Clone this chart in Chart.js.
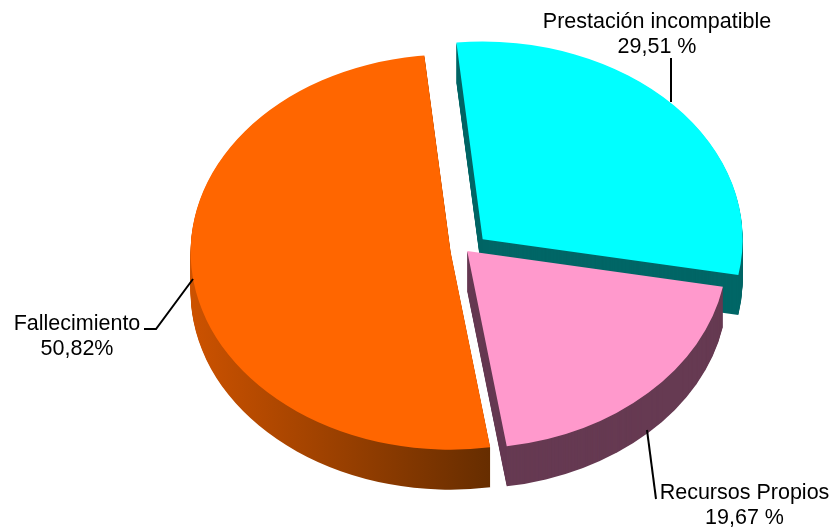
<!DOCTYPE html>
<html>
<head>
<meta charset="utf-8">
<title>Pie</title>
<script src="https://cdn.jsdelivr.net/npm/chart.js@4"></script>
<style>
html, body { margin: 0; padding: 0; background: #fff; }
canvas { display: block; }
</style>
</head>
<body>
<canvas id="pie" width="829" height="528"></canvas>
<script>
var categories = ["Prestación incompatible", "Recursos Propios", "Fallecimiento"];
var values = [29.51, 19.67, 50.82];
var suffixes = [" %", " %", "%"];

var topColors = ["#00FFFF", "#FF99CC", "#FF6600"];
var wallColors = ["#006666", "#663A52", null];
var explode = [22, 1, 16];   // px along the middle of each slice
var tilt = 0.76;             // y squash of the pie
var depth = 40;

// where the text and leader lines go, same order as categories
var labelPos = [[657, 28], [744.5, 499], [77, 330]];
var leaders = [
	[[671, 58], [671, 102]],
	[[647, 430], [656, 499]],
	[[144, 329], [156, 329], [193, 279]]
];

function sliceOffset(arc, i) {
	var mid = (arc.startAngle + arc.endAngle) / 2;
	return [Math.cos(mid) * explode[i], Math.sin(mid) * explode[i]];
}

// orange side goes dark to the right, x given in page pixels
function orangeWall(ctx, originX) {
	var g = ctx.createLinearGradient(191 - originX, 0, 492 - originX, 0);
	g.addColorStop(0, "#CC5200");
	g.addColorStop(1, "#662D00");
	return g;
}

var pie3d = {
	id: "pie3d",
	beforeDatasetDraw: function (chart, args) {
		var ctx = chart.ctx;
		var arcs = args.meta.data;
		// back to front: cyan, orange, pink
		[0, 2, 1].forEach(function (i) {
			var arc = arcs[i];
			var off = sliceOffset(arc, i);

			ctx.fillStyle = wallColors[i] || orangeWall(ctx, arc.x + off[0]);
			for (var d = depth; d >= 1; d--) {
				ctx.save();
				ctx.translate(arc.x, arc.y + d);
				ctx.scale(1, tilt);
				ctx.translate(off[0], off[1]);
				ctx.beginPath();
				ctx.moveTo(0, 0);
				ctx.arc(0, 0, arc.outerRadius, arc.startAngle, arc.endAngle);
				ctx.closePath();
				ctx.fill();
				ctx.restore();
			}

			ctx.save();
			ctx.translate(arc.x, arc.y);
			ctx.scale(1, tilt);
			ctx.translate(-arc.x + off[0], -arc.y + off[1]);
			arc.draw(ctx);
			ctx.restore();
		});
		return false;
	},
	afterDatasetsDraw: function (chart) {
		var ctx = chart.ctx;
		ctx.save();
		ctx.strokeStyle = "#000";
		ctx.lineWidth = 2;
		leaders.forEach(function (pts) {
			ctx.beginPath();
			pts.forEach(function (p, n) {
				if (n == 0) ctx.moveTo(p[0], p[1]); else ctx.lineTo(p[0], p[1]);
			});
			ctx.stroke();
		});
		ctx.fillStyle = "#000";
		ctx.font = "21.5px 'Liberation Sans', Arial, sans-serif";
		ctx.textAlign = "center";
		categories.forEach(function (name, i) {
			var pct = values[i].toFixed(2).replace(".", ",") + suffixes[i];
			ctx.fillText(name, labelPos[i][0], labelPos[i][1]);
			ctx.fillText(pct, labelPos[i][0], labelPos[i][1] + 25);
		});
		ctx.restore();
	}
};

new Chart(document.getElementById("pie").getContext("2d"), {
	type: "pie",
	data: {
		labels: categories,
		datasets: [{
			data: values,
			backgroundColor: topColors,
			borderWidth: 0,
			radius: 260,
			rotation: -5.8
		}]
	},
	options: {
		responsive: false,
		animation: false,
		events: [],
		layout: { padding: { left: 104, right: 0, top: 0, bottom: 27 } },
		plugins: { legend: { display: false }, tooltip: { enabled: false } }
	},
	plugins: [pie3d]
});
</script>
</body>
</html>
